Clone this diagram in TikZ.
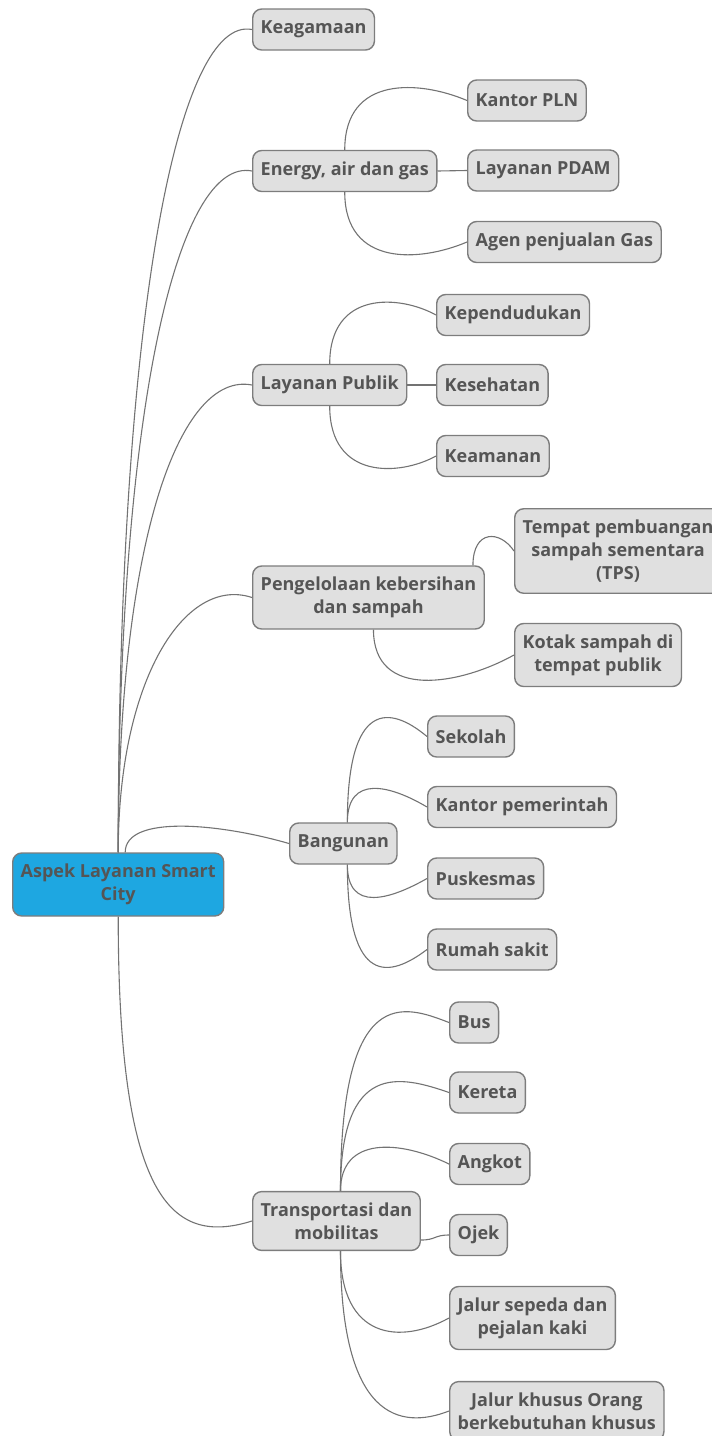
\documentclass[tikz,border=0pt]{standalone}
\usepackage{fontspec}
\setmainfont{Open Sans}
\definecolor{boxfill}{RGB}{224,224,224}
\definecolor{boxline}{RGB}{125,125,125}
\definecolor{labeltext}{RGB}{85,85,85}
\definecolor{rootfill}{RGB}{30,167,225}
\definecolor{linkgray}{RGB}{115,115,115}

\begin{document}
\begin{tikzpicture}[x=1pt, y=-1pt,
    topic/.style={draw=boxline, line width=1.4pt, fill=boxfill, rounded corners=9pt,
      text=labeltext, font=\fontsize{18}{23}\selectfont\bfseries, align=center,
      minimum height=41pt, inner xsep=8pt, inner ysep=11pt, anchor=west},
    central/.style={topic, fill=rootfill},
    link/.style={draw=linkgray, line width=1.1pt}]
  \useasboundingbox (0,0) rectangle (712,1436);

  % central topic and main branches
  \node[central] (root) at (12,884.5) {Aspek Layanan Smart\\City};
  \node[topic] (keag)      at (252,29.5)  {Keagamaan};
  \node[topic] (energi)    at (252,171)   {Energy, air dan gas};
  \node[topic] (publik)    at (252,385)   {Layanan Publik};
  \node[topic] (sampah)    at (252,597.5) {Pengelolaan kebersihan\\dan sampah};
  \node[topic] (bangunan)  at (289,843.5) {Bangunan};
  \node[topic] (transport) at (252,1221)  {Transportasi dan\\mobilitas};

  % sub topics
  \node[topic] (pln)       at (467,100.5) {Kantor PLN};
  \node[topic] (pdam)      at (467,170.5) {Layanan PDAM};
  \node[topic] (gas)       at (467,242)   {Agen penjualan Gas};
  \node[topic] (penduduk)  at (436,315)   {Kependudukan};
  \node[topic] (sehat)     at (436,385)   {Kesehatan};
  \node[topic] (aman)      at (436,456)   {Keamanan};
  \node[topic] (tps)       at (514,551)   {Tempat pembuangan\\sampah sementara\\(TPS)};
  \node[topic] (kotak)     at (514,655)   {Kotak sampah di\\tempat publik};
  \node[topic] (sekolah)   at (427,736.5) {Sekolah};
  \node[topic] (kantor)    at (427,807)   {Kantor pemerintah};
  \node[topic] (puskesmas) at (427,878.5) {Puskesmas};
  \node[topic] (rs)        at (427,949.5) {Rumah sakit};
  \node[topic] (bus)       at (449,1022.5) {Bus};
  \node[topic] (kereta)    at (449,1092.5) {Kereta};
  \node[topic] (angkot)    at (449,1164)  {Angkot};
  \node[topic] (ojek)      at (449,1235)  {Ojek};
  \node[topic] (sepeda)    at (449,1318)  {Jalur sepeda dan\\pejalan kaki};
  \node[topic] (difabel)   at (449,1411)  {Jalur khusus Orang\\berkebutuhan khusus};

  % branches of the central topic
  \foreach \c/\h/\dx/\dy in {keag/-553/-72/-14, energi/-457/-72/-14,
      publik/-313/-72/-14, sampah/-173/-67/-22}
    \draw[link] (root.north) .. controls +(0,\h) and +(\dx,\dy) .. (\c.west);
  \draw[link] ([xshift=7pt]root.north) .. controls +(0,-38) and +(-69,-20) .. (bangunan.west);
  \draw[link] (root.south) .. controls +(0,284) and +(-80,25) .. (transport.west);

  % Energy, air dan gas
  \draw[link] (energi.north) .. controls +(0,-75) and +(-47,-20) .. (pln.west);
  \draw[link] (energi.east) -- (pdam.west);
  \draw[link] (energi.south) .. controls +(0,75) and +(-47,20) .. (gas.west);

  % Layanan Publik
  \draw[link] (publik.north) .. controls +(0,-74) and +(-36,-20) .. (penduduk.west);
  \draw[link] (publik.east) -- (sehat.west);
  \draw[link] (publik.south) .. controls +(0,74) and +(-36,20) .. (aman.west);

  % kebersihan
  \draw[link] ([xshift=-12pt]sampah.north east) .. controls +(0,-36) and +(-14,-21) .. (tps.west);
  \draw[link] ([xshift=5pt]sampah.south) .. controls +(0,71) and +(-54,30) .. (kotak.west);

  % Bangunan
  \foreach \c/\h/\dy in {sekolah/-123/-31, kantor/-48/-22}
    \draw[link] ([xshift=4pt]bangunan.north) .. controls +(0,\h) and +(-37,\dy) .. (\c.west);
  \foreach \c/\h/\dy in {puskesmas/48/21, rs/123/28}
    \draw[link] ([xshift=4pt]bangunan.south) .. controls +(0,\h) and +(-37,\dy) .. (\c.west);

  % Transportasi
  \foreach \c/\h/\dx/\dy in {bus/-210/-44/-17, kereta/-130/-49/-17, angkot/-55/-49/-24}
    \draw[link] ([xshift=4pt]transport.north) .. controls +(0,\h) and +(\dx,\dy) .. (\c.west);
  \draw[link] ([yshift=-19pt]transport.east) .. controls +(15,0) and +(-15,0) .. (ojek.west);
  \foreach \c/\h/\dy in {sepeda/88/27, difabel/168/19}
    \draw[link] ([xshift=4pt]transport.south) .. controls +(0,\h) and +(-49,\dy) .. (\c.west);
\end{tikzpicture}
\end{document}
